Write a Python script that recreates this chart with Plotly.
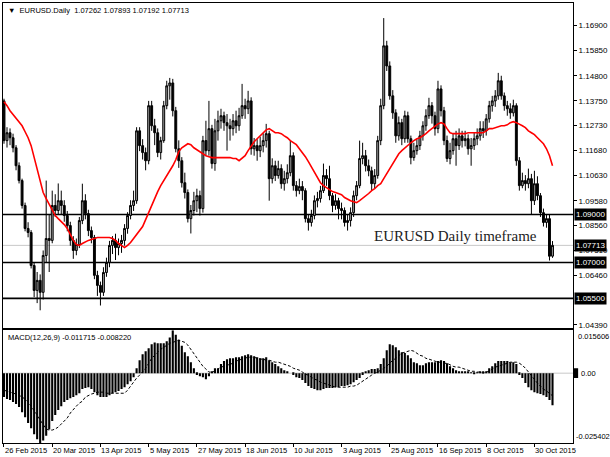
import plotly.graph_objects as go

# ---------------- data ----------------
opens = [
1.1375, 1.1209, 1.1242, 1.1221, 1.1179, 1.1104, 1.1042, 1.0938, 1.0842, 1.0825,
1.0687, 1.0583, 1.0625, 1.0575, 1.0729, 1.0800, 1.0792, 1.0938, 1.0917, 1.0958,
1.0938, 1.0896, 1.0854, 1.0792, 1.0750, 1.0775, 1.0875, 1.0958, 1.0904, 1.0833,
1.0804, 1.0646, 1.0604, 1.0575, 1.0658, 1.0700, 1.0771, 1.0792, 1.0762, 1.0779,
1.0792, 1.0842, 1.0896, 1.0938, 1.0958, 1.1250, 1.1188, 1.1159, 1.1125, 1.1355,
1.1271, 1.1242, 1.1159, 1.1209, 1.1355, 1.1438, 1.1450, 1.1334, 1.1175, 1.1125,
1.1033, 1.0992, 1.0883, 1.0917, 1.0958, 1.0979, 1.0925, 1.1209, 1.1167, 1.1259,
1.1113, 1.1250, 1.1292, 1.1313, 1.1284, 1.1271, 1.1259, 1.1292, 1.1271, 1.1313,
1.1355, 1.1342, 1.1375, 1.1175, 1.1188, 1.1167, 1.1188, 1.1209, 1.1238, 1.1050,
1.1104, 1.1063, 1.1092, 1.1029, 1.1050, 1.1075, 1.1146, 1.1021, 1.1000, 1.1017,
1.1000, 1.0883, 1.0867, 1.0896, 1.0958, 1.0967, 1.1000, 1.1063, 1.1050, 1.0979,
1.0938, 1.0958, 1.0925, 1.0917, 1.0867, 1.0875, 1.0908, 1.0979, 1.1021, 1.1134,
1.1146, 1.1104, 1.1083, 1.1029, 1.1063, 1.1209, 1.1355, 1.1605, 1.1521, 1.1396,
1.1325, 1.1229, 1.1284, 1.1217, 1.1313, 1.1217, 1.1138, 1.1167, 1.1188, 1.1229,
1.1271, 1.1313, 1.1355, 1.1313, 1.1259, 1.1425, 1.1334, 1.1209, 1.1134, 1.1167,
1.1217, 1.1188, 1.1229, 1.1209, 1.1217, 1.1175, 1.1188, 1.1217, 1.1229, 1.1259,
1.1250, 1.1300, 1.1355, 1.1375, 1.1396, 1.1459, 1.1396, 1.1355, 1.1342, 1.1325,
1.1355, 1.1125, 1.1021, 1.1042, 1.1029, 1.1050, 1.0958, 1.1029, 1.0979, 1.0908,
1.0867, 1.0883, 1.07262]

highs = [
1.1384, 1.1265, 1.1260, 1.1238, 1.1190, 1.1118, 1.1050, 1.0950, 1.0868, 1.0835,
1.0700, 1.0660, 1.0650, 1.0750, 1.1042, 1.0900, 1.1000, 1.0985, 1.1030, 1.1000,
1.0960, 1.0915, 1.0870, 1.0810, 1.0800, 1.0890, 1.1029, 1.0985, 1.0920, 1.0850,
1.0815, 1.0665, 1.0620, 1.0680, 1.0720, 1.0790, 1.0810, 1.0820, 1.0800, 1.0815,
1.0860, 1.0910, 1.0960, 1.1000, 1.1265, 1.1265, 1.1215, 1.1180, 1.1375, 1.1375,
1.1300, 1.1260, 1.1225, 1.1375, 1.1459, 1.1471, 1.1467, 1.1350, 1.1210, 1.1140,
1.1075, 1.1005, 1.0940, 1.0995, 1.1008, 1.1000, 1.1229, 1.1292, 1.1375, 1.1275,
1.1300, 1.1334, 1.1342, 1.1330, 1.1320, 1.1300, 1.1320, 1.1334, 1.1346, 1.1446,
1.1384, 1.1417, 1.1390, 1.1220, 1.1215, 1.1225, 1.1240, 1.1279, 1.1250, 1.1135,
1.1125, 1.1125, 1.1110, 1.1083, 1.1110, 1.1209, 1.1160, 1.1040, 1.1050, 1.1040,
1.1010, 1.0900, 1.0920, 1.0980, 1.0995, 1.1020, 1.1113, 1.1090, 1.1104, 1.0990,
1.0985, 1.0970, 1.0950, 1.0930, 1.0900, 1.0930, 1.1000, 1.1040, 1.1209, 1.1200,
1.1170, 1.1130, 1.1100, 1.1090, 1.1229, 1.1384, 1.1721, 1.1626, 1.1540, 1.1420,
1.1340, 1.1310, 1.1300, 1.1334, 1.1330, 1.1230, 1.1200, 1.1215, 1.1250, 1.1290,
1.1340, 1.1388, 1.1370, 1.1330, 1.1459, 1.1440, 1.1350, 1.1230, 1.1200, 1.1240,
1.1250, 1.1260, 1.1250, 1.1250, 1.1235, 1.1220, 1.1245, 1.1260, 1.1290, 1.1290,
1.1320, 1.1375, 1.1396, 1.1420, 1.1492, 1.1480, 1.1410, 1.1375, 1.1365, 1.1380,
1.1365, 1.1140, 1.1075, 1.1065, 1.1092, 1.1070, 1.1083, 1.1060, 1.0990, 1.0925,
1.0900, 1.0900, 1.07893]

lows = [
1.1196, 1.1180, 1.1190, 1.1160, 1.1085, 1.1030, 1.0925, 1.0830, 1.0805, 1.0675,
1.0555, 1.0530, 1.0500, 1.0545, 1.0700, 1.0660, 1.0780, 1.0890, 1.0900, 1.0900,
1.0870, 1.0830, 1.0770, 1.0715, 1.0730, 1.0760, 1.0860, 1.0880, 1.0810, 1.0780,
1.0630, 1.0560, 1.0520, 1.0560, 1.0640, 1.0680, 1.0735, 1.0710, 1.0730, 1.0740,
1.0770, 1.0820, 1.0880, 1.0915, 1.0945, 1.1165, 1.1130, 1.1085, 1.1110, 1.1250,
1.1190, 1.1140, 1.1130, 1.1200, 1.1340, 1.1380, 1.1310, 1.1160, 1.1095, 1.1013,
1.0967, 1.0867, 1.0821, 1.0896, 1.0910, 1.0896, 1.0908, 1.1146, 1.1146, 1.1092,
1.1083, 1.1209, 1.1259, 1.1250, 1.1167, 1.1209, 1.1230, 1.1240, 1.1250, 1.1300,
1.1300, 1.1320, 1.1150, 1.1146, 1.1125, 1.1140, 1.1160, 1.1180, 1.0958, 1.1030,
1.1040, 1.1050, 1.1008, 1.1000, 1.1030, 1.1060, 1.1000, 1.0975, 1.0985, 1.0960,
1.0867, 1.0833, 1.0850, 1.0880, 1.0930, 1.0950, 1.0990, 1.1020, 1.0960, 1.0910,
1.0920, 1.0880, 1.0880, 1.0850, 1.0833, 1.0850, 1.0890, 1.0960, 1.1010, 1.1110,
1.1080, 1.1060, 1.1000, 1.1010, 1.1050, 1.1190, 1.1340, 1.1500, 1.1380, 1.1300,
1.1200, 1.1209, 1.1190, 1.1200, 1.1200, 1.1110, 1.1125, 1.1150, 1.1170, 1.1209,
1.1250, 1.1300, 1.1280, 1.1230, 1.1240, 1.1310, 1.1190, 1.1120, 1.1110, 1.1150,
1.1104, 1.1170, 1.1180, 1.1185, 1.1150, 1.1104, 1.1170, 1.1190, 1.1209, 1.1220,
1.1230, 1.1284, 1.1330, 1.1350, 1.1380, 1.1380, 1.1334, 1.1313, 1.1300, 1.1310,
1.1104, 1.1000, 1.1010, 1.1000, 1.1010, 1.0900, 1.0940, 1.0960, 1.0890, 1.0850,
1.0845, 1.0708, 1.07192]

closes = [
1.1209, 1.1242, 1.1221, 1.1179, 1.1104, 1.1042, 1.0938, 1.0842, 1.0825, 1.0687,
1.0583, 1.0625, 1.0575, 1.0729, 1.0800, 1.0792, 1.0938, 1.0917, 1.0958, 1.0938,
1.0896, 1.0854, 1.0792, 1.0750, 1.0775, 1.0875, 1.0958, 1.0904, 1.0833, 1.0804,
1.0646, 1.0604, 1.0575, 1.0658, 1.0700, 1.0771, 1.0792, 1.0762, 1.0779, 1.0792,
1.0842, 1.0896, 1.0938, 1.0958, 1.1250, 1.1188, 1.1159, 1.1125, 1.1355, 1.1271,
1.1242, 1.1159, 1.1209, 1.1355, 1.1438, 1.1450, 1.1334, 1.1175, 1.1125, 1.1033,
1.0992, 1.0883, 1.0917, 1.0958, 1.0979, 1.0925, 1.1209, 1.1167, 1.1259, 1.1113,
1.1250, 1.1292, 1.1313, 1.1284, 1.1271, 1.1259, 1.1292, 1.1271, 1.1313, 1.1355,
1.1342, 1.1375, 1.1175, 1.1188, 1.1167, 1.1188, 1.1209, 1.1238, 1.1050, 1.1104,
1.1063, 1.1092, 1.1029, 1.1050, 1.1075, 1.1146, 1.1021, 1.1000, 1.1017, 1.1000,
1.0883, 1.0867, 1.0896, 1.0958, 1.0967, 1.1000, 1.1063, 1.1050, 1.0979, 1.0938,
1.0958, 1.0925, 1.0917, 1.0867, 1.0875, 1.0908, 1.0979, 1.1021, 1.1134, 1.1146,
1.1104, 1.1083, 1.1029, 1.1063, 1.1209, 1.1355, 1.1605, 1.1521, 1.1396, 1.1325,
1.1229, 1.1284, 1.1217, 1.1313, 1.1217, 1.1138, 1.1167, 1.1188, 1.1229, 1.1271,
1.1313, 1.1355, 1.1313, 1.1259, 1.1425, 1.1334, 1.1209, 1.1134, 1.1167, 1.1217,
1.1188, 1.1229, 1.1209, 1.1217, 1.1175, 1.1188, 1.1217, 1.1229, 1.1259, 1.1250,
1.1300, 1.1355, 1.1375, 1.1396, 1.1459, 1.1396, 1.1355, 1.1342, 1.1325, 1.1355,
1.1125, 1.1021, 1.1042, 1.1029, 1.1050, 1.0958, 1.1029, 1.0979, 1.0908, 1.0867,
1.0883, 1.0726, 1.07713]

ma_red = [
1.1371, 1.1355, 1.1334, 1.1317, 1.1300, 1.1288, 1.1271, 1.1246, 1.1221, 1.1188,
1.1138, 1.1083, 1.1033, 1.0992, 1.0967, 1.0942, 1.0917, 1.0896, 1.0883, 1.0871,
1.0858, 1.0842, 1.0817, 1.0792, 1.0775, 1.0771, 1.0779, 1.0787, 1.0792, 1.0796,
1.0800, 1.0804, 1.0804, 1.0804, 1.0804, 1.0804, 1.0800, 1.0792, 1.0779, 1.0771,
1.0762, 1.0771, 1.0783, 1.0800, 1.0817, 1.0833, 1.0850, 1.0879, 1.0908, 1.0938,
1.0971, 1.0996, 1.1021, 1.1042, 1.1063, 1.1079, 1.1104, 1.1129, 1.1163, 1.1179,
1.1188, 1.1196, 1.1192, 1.1179, 1.1171, 1.1163, 1.1154, 1.1146, 1.1142, 1.1138,
1.1138, 1.1138, 1.1138, 1.1138, 1.1138, 1.1138, 1.1134, 1.1134, 1.1125, 1.1134,
1.1146, 1.1167, 1.1188, 1.1204, 1.1217, 1.1229, 1.1242, 1.1254, 1.1259, 1.1250,
1.1242, 1.1242, 1.1238, 1.1229, 1.1221, 1.1209, 1.1200, 1.1192, 1.1175, 1.1159,
1.1142, 1.1121, 1.1100, 1.1075, 1.1054, 1.1033, 1.1021, 1.1013, 1.1004, 1.0996,
1.0992, 1.0988, 1.0983, 1.0971, 1.0963, 1.0958, 1.0954, 1.0950, 1.0958, 1.0967,
1.0979, 1.0988, 1.1000, 1.1008, 1.1021, 1.1029, 1.1050, 1.1071, 1.1096, 1.1117,
1.1134, 1.1154, 1.1167, 1.1179, 1.1188, 1.1200, 1.1209, 1.1217, 1.1221, 1.1229,
1.1238, 1.1250, 1.1259, 1.1267, 1.1279, 1.1284, 1.1279, 1.1259, 1.1242, 1.1238,
1.1238, 1.1238, 1.1238, 1.1238, 1.1242, 1.1242, 1.1242, 1.1242, 1.1242, 1.1242,
1.1250, 1.1259, 1.1259, 1.1263, 1.1267, 1.1271, 1.1271, 1.1275, 1.1284, 1.1288,
1.1284, 1.1279, 1.1271, 1.1263, 1.1250, 1.1242, 1.1234, 1.1221, 1.1209, 1.1196,
1.1175, 1.1146, 1.1104]

macd_main = [
-0.0087, -0.0094, -0.0098, -0.0105, -0.0112, -0.0123, -0.0142, -0.0160, -0.0181, -0.0200,
-0.0222, -0.0240, -0.0254, -0.0245, -0.0228, -0.0205, -0.0174, -0.0152, -0.0134, -0.0120,
-0.0105, -0.0098, -0.0091, -0.0087, -0.0080, -0.0073, -0.0058, -0.0054, -0.0051, -0.0058,
-0.0069, -0.0080, -0.0087, -0.0087, -0.0087, -0.0080, -0.0073, -0.0069, -0.0065, -0.0058,
-0.0051, -0.0040, -0.0029, -0.0015, 0.0018, 0.0047, 0.0069, 0.0080, 0.0091, 0.0105,
0.0112, 0.0109, 0.0109, 0.0109, 0.0116, 0.0130, 0.0156, 0.0140, 0.0122, 0.0100,
0.0076, 0.0062, 0.0040, 0.0018, -0.0007, -0.0011, -0.0015, -0.0022, -0.0011, 0.0007,
0.0018, 0.0018, 0.0033, 0.0044, 0.0051, 0.0054, 0.0054, 0.0058, 0.0058, 0.0062,
0.0065, 0.0069, 0.0065, 0.0062, 0.0058, 0.0054, 0.0054, 0.0058, 0.0047, 0.0040,
0.0033, 0.0025, 0.0018, 0.0011, 0.0004, 0.0000, -0.0007, -0.0015, -0.0018, -0.0025,
-0.0036, -0.0047, -0.0054, -0.0058, -0.0062, -0.0062, -0.0058, -0.0054, -0.0054, -0.0054,
-0.0051, -0.0051, -0.0047, -0.0047, -0.0044, -0.0040, -0.0033, -0.0025, -0.0018, -0.0007,
0.0004, 0.0011, 0.0015, 0.0015, 0.0018, 0.0033, 0.0054, 0.0083, 0.0105, 0.0102,
0.0094, 0.0083, 0.0076, 0.0073, 0.0065, 0.0054, 0.0040, 0.0036, 0.0029, 0.0029,
0.0036, 0.0040, 0.0040, 0.0040, 0.0044, 0.0047, 0.0044, 0.0036, 0.0025, 0.0018,
0.0011, 0.0007, 0.0007, 0.0004, 0.0004, 0.0001, -0.0001, 0.0001, 0.0004, 0.0004,
0.0007, 0.0018, 0.0025, 0.0036, 0.0044, 0.0044, 0.0044, 0.0044, 0.0040, 0.0040,
0.0033, -0.0007, -0.0018, -0.0036, -0.0051, -0.0062, -0.0069, -0.0073, -0.0076, -0.0080,
-0.0087, -0.0098, -0.011715]

macd_signal = [
-0.0062, -0.0065, -0.0069, -0.0073, -0.0076, -0.0080, -0.0087, -0.0094, -0.0105, -0.0120,
-0.0134, -0.0152, -0.0171, -0.0189, -0.0203, -0.0207, -0.0207, -0.0203, -0.0196, -0.0185,
-0.0174, -0.0163, -0.0145, -0.0131, -0.0120, -0.0109, -0.0102, -0.0087, -0.0080, -0.0076,
-0.0073, -0.0069, -0.0069, -0.0069, -0.0073, -0.0073, -0.0073, -0.0073, -0.0073, -0.0073,
-0.0073, -0.0062, -0.0047, -0.0029, -0.0018, -0.0007, 0.0004, 0.0018, 0.0036, 0.0054,
0.0065, 0.0076, 0.0087, 0.0094, 0.0102, 0.0109, 0.0112, 0.0116, 0.0120, 0.0116,
0.0112, 0.0102, 0.0087, 0.0073, 0.0058, 0.0044, 0.0025, 0.0015, 0.0004, 0.0004,
0.0007, 0.0015, 0.0022, 0.0025, 0.0029, 0.0033, 0.0036, 0.0044, 0.0047, 0.0051,
0.0054, 0.0058, 0.0058, 0.0058, 0.0054, 0.0051, 0.0051, 0.0047, 0.0047, 0.0044,
0.0040, 0.0040, 0.0036, 0.0033, 0.0029, 0.0025, 0.0018, 0.0015, 0.0011, 0.0004,
-0.0004, -0.0007, -0.0015, -0.0022, -0.0025, -0.0033, -0.0036, -0.0040, -0.0044, -0.0047,
-0.0051, -0.0051, -0.0051, -0.0051, -0.0051, -0.0047, -0.0047, -0.0044, -0.0036, -0.0029,
-0.0022, -0.0015, -0.0007, 0.0000, 0.0004, 0.0011, 0.0018, 0.0025, 0.0036, 0.0047,
0.0054, 0.0065, 0.0073, 0.0076, 0.0080, 0.0083, 0.0080, 0.0073, 0.0065, 0.0062,
0.0054, 0.0051, 0.0047, 0.0044, 0.0040, 0.0040, 0.0036, 0.0036, 0.0029, 0.0025,
0.0022, 0.0022, 0.0018, 0.0015, 0.0011, 0.0007, 0.0007, 0.0004, 0.0004, 0.0000,
0.0004, 0.0007, 0.0015, 0.0022, 0.0025, 0.0029, 0.0033, 0.0036, 0.0040, 0.0040,
0.0040, 0.0036, 0.0029, 0.0018, 0.0004, -0.0011, -0.0022, -0.0036, -0.0047, -0.0058,
-0.0065, -0.0073, -0.00822]

date_labels = ["26 Feb 2015", "20 Mar 2015", "13 Apr 2015", "5 May 2015", "27 May 2015",
               "18 Jun 2015", "10 Jul 2015", "3 Aug 2015", "25 Aug 2015", "16 Sep 2015",
               "8 Oct 2015", "30 Oct 2015"]
date_bar_index = [0, 16, 32, 48, 64, 80, 96, 112, 128, 144, 160, 176]

price_ticks = [1.16900, 1.15850, 1.14800, 1.13750, 1.12730, 1.11680, 1.10630,
               1.09580, 1.08560, 1.07510, 1.06460, 1.04390]
level_lines = [1.09000, 1.07000, 1.05500]
current_price = 1.07713
macd_max, macd_min = 0.015606, -0.025402

# ---------------- figure ----------------
FONT = "Liberation Sans"
n = len(closes)
idx = list(range(n))
xr = [-0.33, 188.8]

fig = go.Figure()
fig.add_trace(go.Candlestick(
    x=idx, open=opens, high=highs, low=lows, close=closes,
    increasing=dict(line=dict(color="#000000", width=1), fillcolor="#9a9a9a"),
    decreasing=dict(line=dict(color="#000000", width=1), fillcolor="#000000"),
    whiskerwidth=0, xaxis="x", yaxis="y", showlegend=False, hoverinfo="skip"))
fig.add_trace(go.Scatter(x=idx, y=ma_red, mode="lines",
                         line=dict(color="#ff0000", width=1.6),
                         xaxis="x", yaxis="y", showlegend=False, hoverinfo="skip"))
fig.add_trace(go.Bar(x=idx, y=macd_main, marker=dict(color="#000000", line=dict(width=0)),
                     xaxis="x2", yaxis="y2", showlegend=False, hoverinfo="skip"))
fig.add_trace(go.Scatter(x=idx, y=macd_signal, mode="lines",
                         line=dict(color="#000000", width=1, dash="3px,2px"),
                         xaxis="x2", yaxis="y2", showlegend=False, hoverinfo="skip"))

shapes = []
for lv in level_lines:
    shapes.append(dict(type="line", xref="x", yref="y", x0=xr[0], x1=xr[1], y0=lv, y1=lv,
                       line=dict(color="#000000", width=1.6), layer="below"))
shapes.append(dict(type="line", xref="x", yref="y", x0=xr[0], x1=xr[1],
                   y0=current_price, y1=current_price,
                   line=dict(color="#c8c8c8", width=1), layer="below"))
shapes.append(dict(type="line", xref="x2", yref="y2", x0=xr[0], x1=xr[1], y0=0, y1=0,
                   line=dict(color="#c8c8c8", width=1), layer="below"))

ann = []
def fmt(v):
    return f"{v:.5f}"

for lv in level_lines + [current_price]:
    ann.append(dict(x=1, xref="paper", xanchor="left", xshift=1, y=lv, yref="y",
                    text=fmt(lv), showarrow=False, bgcolor="#000000",
                    font=dict(family=FONT, size=8, color="#ffffff"), borderpad=1))

ann.append(dict(x=0, xref="paper", xanchor="left", xshift=3, y=1, yref="paper",
                yanchor="top", yshift=-1, showarrow=False,
                text="\u25BC  EURUSD.Daily  1.07262 1.07893 1.07192 1.07713",
                font=dict(family=FONT, size=7.5, color="#000000")))
ann.append(dict(x=0, xref="paper", xanchor="left", xshift=3, y=macd_max, yref="y2",
                yanchor="top", yshift=-1, showarrow=False,
                text="MACD(12,26,9) -0.011715 -0.008220",
                font=dict(family=FONT, size=7.5, color="#000000")))
ann.append(dict(x=122, xref="x", xanchor="left", y=current_price, yref="y", yanchor="bottom",
                yshift=-1, showarrow=False, text="EURUSD Daily timeframe",
                font=dict(family="Liberation Serif", size=15, color="#222222")))

for lab, bi in zip(date_labels, date_bar_index):
    ann.append(dict(x=bi, xref="x2", xanchor="left", xshift=-1, y=0, yref="paper",
                    yanchor="top", yshift=-1, showarrow=False, text=lab,
                    font=dict(family=FONT, size=7.5, color="#000000")))

ann.append(dict(x=1, xref="paper", xanchor="left", xshift=3, y=macd_max, yref="y2",
                yanchor="top", showarrow=False, text="0.015606",
                font=dict(family=FONT, size=7.5, color="#000000")))
ann.append(dict(x=1, xref="paper", xanchor="left", xshift=6, y=0, yref="y2",
                showarrow=False, text="0.00",
                font=dict(family=FONT, size=7.5, color="#000000")))
shapes.append(dict(type="rect", xref="paper", yref="y2", x0=1.0, x1=1.009,
                   y0=-0.0018, y1=0.0018, fillcolor="#000000", line=dict(width=0)))
ann.append(dict(x=1, xref="paper", xanchor="left", xshift=1, y=macd_min, yref="y2",
                yanchor="bottom", showarrow=False, text="-0.025402",
                font=dict(family=FONT, size=7.5, color="#000000")))

fig.update_layout(
    width=610, height=457,
    margin=dict(l=2, r=32, t=2, b=14),
    paper_bgcolor="#ffffff", plot_bgcolor="#ffffff",
    showlegend=False, bargap=0.3, boxgap=0.1,
    font=dict(family=FONT, size=8, color="#000000"),
    xaxis=dict(domain=[0, 1], range=xr, anchor="y", showticklabels=False,
               showline=True, mirror=True, linecolor="#000000", linewidth=1,
               showgrid=False, zeroline=False, ticks="",
               rangeslider=dict(visible=False)),
    yaxis=dict(domain=[0.2608, 1], range=[1.0425, 1.1784], side="right", anchor="x",
               tickvals=price_ticks, ticktext=[fmt(v) for v in price_ticks],
               ticks="outside", ticklen=3, tickcolor="#000000",
               tickfont=dict(family=FONT, size=8, color="#000000"),
               showline=True, mirror=True, linecolor="#000000", linewidth=1,
               showgrid=False, zeroline=False),
    xaxis2=dict(domain=[0, 1], range=xr, anchor="y2", tickvals=date_bar_index,
                ticktext=["" for _ in date_bar_index], ticks="outside", ticklen=3,
                tickcolor="#000000", showline=True, mirror=True, linecolor="#000000",
                linewidth=1, showgrid=False, zeroline=False),
    yaxis2=dict(domain=[0, 0.2562], range=[macd_min, macd_max], side="right", anchor="x2",
                showticklabels=False, ticks="", showline=True, mirror=True,
                linecolor="#000000", linewidth=1, showgrid=False, zeroline=False),
    shapes=shapes, annotations=ann,
)

fig.write_html("out.html", config={"displayModeBar": False},
               post_script="document.body.style.margin='0';document.body.style.overflow='hidden';")
